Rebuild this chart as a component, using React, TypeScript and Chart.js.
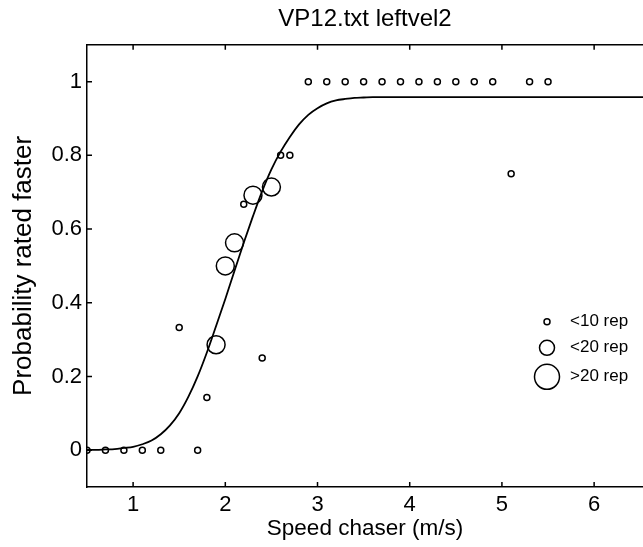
import { useEffect, useRef } from "react";
import { Chart, registerables } from "chart.js";

Chart.register(...registerables);

const titleText = "VP12.txt leftvel2";
const xAxisLabel = "Speed chaser (m/s)";
const yAxisLabel = "Probability rated faster";

const xTickValues = [1, 2, 3, 4, 5, 6];
const xTickLabels = ["1", "2", "3", "4", "5", "6"];
const yTickValues = [0, 0.2, 0.4, 0.6, 0.8, 1];
const yTickLabels = ["0", "0.2", "0.4", "0.6", "0.8", "1"];

// data points with < 10 repetitions (small markers)
const smallX = [0.5, 0.7, 0.9, 1.1, 1.3, 1.5, 1.7, 1.8, 2.2, 2.4, 2.6, 2.7, 2.9, 3.1, 3.3, 3.5, 3.7, 3.9, 4.1, 4.3, 4.5, 4.7, 4.9, 5.1, 5.3, 5.5];
const smallY = [0, 0, 0, 0, 0, 0.333, 0, 0.143, 0.667, 0.25, 0.8, 0.8, 1, 1, 1, 1, 1, 1, 1, 1, 1, 1, 1, 0.75, 1, 1];

// data points with more repetitions (bigger markers)
const bigX = [1.9, 2.0, 2.1, 2.3, 2.5];
const bigY = [0.286, 0.5, 0.5625, 0.692, 0.714];

// fitted psychometric curve
const fitX = [0.5, 0.6, 0.7, 0.8, 0.9, 1.0, 1.1, 1.2, 1.3, 1.4, 1.5, 1.6, 1.7, 1.8, 1.9, 2.0, 2.1, 2.2, 2.3, 2.4, 2.5, 2.6, 2.7, 2.8, 2.9, 3.0, 3.1, 3.2, 3.3, 3.4, 3.5, 3.6, 4.0, 5.0, 6.0, 7.0];
const fitY = [0.001, 0.001, 0.002, 0.003, 0.006, 0.009, 0.016, 0.026, 0.043, 0.067, 0.1, 0.145, 0.2, 0.265, 0.337, 0.41, 0.487, 0.563, 0.635, 0.703, 0.762, 0.81, 0.85, 0.884, 0.91, 0.928, 0.941, 0.949, 0.953, 0.956, 0.957, 0.958, 0.958, 0.958, 0.958, 0.958];

const legendLabels = ["<10 rep", "<20 rep", ">20 rep"];
const legendRadii = [3, 7.5, 12.5];

const X_MIN = 0.5;
const X_MAX = 6.53;
const Y_MIN = -0.1;
const Y_MAX = 1.1;

const FONT = "'Liberation Sans', Arial, Helvetica, sans-serif";

const decorPlugin = {
  id: "decor",
  afterDraw(chart: any) {
    const { ctx, chartArea: a, scales } = chart;
    const xs = scales.x;
    const ys = scales.y;
    ctx.save();
    ctx.strokeStyle = "#000";
    ctx.lineWidth = 1.5;
    ctx.beginPath();
    xs.ticks.forEach((t: any) => {
      const px = xs.getPixelForValue(t.value);
      ctx.moveTo(px, a.bottom);
      ctx.lineTo(px, a.bottom - 5);
      ctx.moveTo(px, a.top);
      ctx.lineTo(px, a.top + 5);
    });
    ys.ticks.forEach((t: any) => {
      const py = ys.getPixelForValue(t.value);
      ctx.moveTo(a.left, py);
      ctx.lineTo(a.left + 5, py);
    });
    ctx.stroke();

    // legend
    const cx = a.right - 96;
    const rows = [a.top + 277, a.top + 303, a.top + 332];
    ctx.lineWidth = 1.5;
    ctx.fillStyle = "#000";
    ctx.font = `17px ${FONT}`;
    ctx.textBaseline = "middle";
    ctx.textAlign = "left";
    legendLabels.forEach((lab, i) => {
      ctx.beginPath();
      ctx.arc(cx, rows[i], legendRadii[i], 0, Math.PI * 2);
      ctx.stroke();
      ctx.fillText(lab, cx + 23, rows[i]);
    });
    ctx.restore();
  },
};

export default function App() {
  const ref = useRef<HTMLCanvasElement | null>(null);

  useEffect(() => {
    if (!ref.current) return;
    const chart = new Chart(ref.current, {
      type: "scatter",
      data: {
        datasets: [
          {
            type: "line",
            label: "fit",
            data: fitX.map((x, i) => ({ x, y: fitY[i] })),
            borderColor: "#000",
            borderWidth: 1.8,
            pointRadius: 0,
            fill: false,
            cubicInterpolationMode: "monotone",
          } as any,
          {
            label: "<10 rep",
            data: smallX.map((x, i) => ({ x, y: smallY[i] })),
            pointRadius: 3,
            pointBorderWidth: 1.5,
            pointBorderColor: "#000",
            pointBackgroundColor: "rgba(0,0,0,0)",
          },
          {
            label: "<20 rep",
            data: bigX.map((x, i) => ({ x, y: bigY[i] })),
            pointRadius: 9,
            pointBorderWidth: 1.5,
            pointBorderColor: "#000",
            pointBackgroundColor: "rgba(0,0,0,0)",
          },
        ],
      },
      options: {
        animation: false,
        responsive: true,
        maintainAspectRatio: false,
        layout: { autoPadding: false, padding: { left: 0, right: 0, top: 0, bottom: 0 } },
        plugins: {
          legend: { display: false },
          tooltip: { enabled: false },
          title: {
            display: true,
            text: titleText,
            fullSize: false,
            color: "#000",
            font: { family: FONT, size: 24, weight: "normal" as any },
            padding: { top: 5, bottom: 11 },
          },
        },
        scales: {
          x: {
            type: "linear",
            position: "bottom",
            min: X_MIN,
            max: X_MAX,
            afterBuildTicks: (s: any) => {
              s.ticks = xTickValues.map((v) => ({ value: v }));
            },
            afterFit: (s: any) => {
              s.height = 60;
              s.paddingLeft = 0;
              s.paddingRight = 0;
            },
            grid: { drawOnChartArea: false, drawTicks: false },
            border: { display: true, color: "#000", width: 1.5 },
            ticks: {
              color: "#000",
              padding: 5,
              font: { family: FONT, size: 22 },
              callback: (v: any) => {
                const i = xTickValues.indexOf(Number(v));
                return i >= 0 ? xTickLabels[i] : "";
              },
            },
            title: {
              display: true,
              text: xAxisLabel,
              color: "#000",
              font: { family: FONT, size: 22.5 },
              padding: { top: 0, bottom: 5 },
            },
          },
          x2: {
            type: "linear",
            position: "top",
            min: X_MIN,
            max: X_MAX,
            afterFit: (s: any) => {
              s.height = 0;
              s.paddingLeft = 0;
              s.paddingRight = 0;
            },
            grid: { drawOnChartArea: false, drawTicks: false },
            border: { display: true, color: "#000", width: 1.5 },
            ticks: { display: false },
          },
          y: {
            type: "linear",
            position: "left",
            min: Y_MIN,
            max: Y_MAX,
            afterBuildTicks: (s: any) => {
              s.ticks = yTickValues.map((v) => ({ value: v }));
            },
            afterFit: (s: any) => {
              s.width = 87;
              s.paddingTop = 0;
              s.paddingBottom = 0;
            },
            grid: { drawOnChartArea: false, drawTicks: false },
            border: { display: true, color: "#000", width: 1.5 },
            ticks: {
              color: "#000",
              padding: 5,
              font: { family: FONT, size: 22 },
              callback: (v: any) => {
                const i = yTickValues.findIndex((t) => Math.abs(t - Number(v)) < 1e-9);
                return i >= 0 ? yTickLabels[i] : "";
              },
            },
            title: {
              display: true,
              text: yAxisLabel,
              color: "#000",
              font: { family: FONT, size: 26 },
              padding: { top: 8, bottom: 0 },
            },
          },
        },
      },
      plugins: [decorPlugin],
    });
    return () => chart.destroy();
  }, []);

  return (
    <div style={{ position: "fixed", left: 0, top: 0, width: 643, height: 547, background: "#fff" }}>
      <canvas ref={ref} />
    </div>
  );
}
